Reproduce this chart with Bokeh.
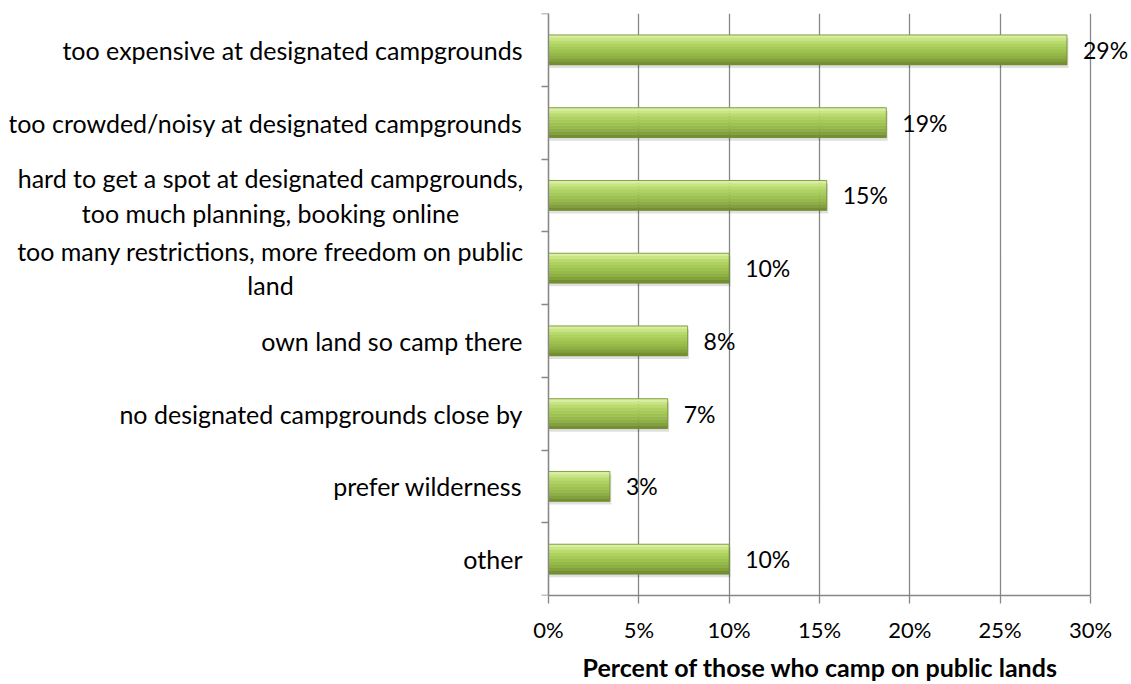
import numpy as np
from bokeh.plotting import figure
from bokeh.models import Range1d, FixedTicker, LinearAxis, Title
from bokeh.embed import file_html
from bokeh.resources import INLINE
from bokeh.core.properties import value

# ---- data ----
categories = [
    "too expensive at designated campgrounds",
    "too crowded/noisy at designated campgrounds",
    "hard to get a spot at designated campgrounds,\ntoo much planning, booking online",
    "too many restrictions, more freedom on public\nland",
    "own land so camp there",
    "no designated campgrounds close by",
    "prefer wilderness",
    "other",
]
values = [28.7, 18.7, 15.4, 10.0, 7.7, 6.6, 3.4, 10.0]
value_labels = ["29%", "19%", "15%", "10%", "8%", "7%", "3%", "10%"]
x_ticks = [0, 5, 10, 15, 20, 25, 30]
x_tick_labels = ["0%", "5%", "10%", "15%", "20%", "25%", "30%"]
x_title = "Percent of those who camp on public lands"

FONT = "Lato"
GRID = "#878787"

W, H = 1131, 684
FL, FR, FT, FB = 9, 1128, 13, 595         # frame edges (px)
X0, X30 = 548, 1090                        # pixel of 0% and 30%
ppu = (X30 - X0) / 30.0

n = len(categories)
centers = np.arange(n) + 0.5
vals = np.array(values)

p = figure(frame_width=FR - FL, frame_height=FB - FT,
           output_backend="svg", toolbar_location=None,
           x_range=Range1d((FL - X0) / ppu, (FR - X0) / ppu),
           y_range=Range1d(n, 0), y_axis_location=None,
           min_border_left=FL, min_border_right=W - FR, min_border_top=FT,
           min_border_bottom=H - FB)
p.outline_line_color = None
p.background_fill_color = "white"
p.border_fill_color = "white"

# grid
p.ygrid.visible = False
p.xgrid.ticker = FixedTicker(ticks=x_ticks)
p.xgrid.grid_line_color = GRID
p.xgrid.grid_line_width = 1.3

# x axis
p.xaxis.bounds = (x_ticks[0], x_ticks[-1])
p.xaxis.ticker = FixedTicker(ticks=x_ticks)
p.xaxis.major_label_overrides = {t: l for t, l in zip(x_ticks, x_tick_labels)}
p.xaxis.major_tick_out = 8
p.xaxis.major_tick_in = 0
p.xaxis.minor_tick_line_color = None
p.xaxis.axis_line_color = GRID
p.xaxis.major_tick_line_color = GRID
p.xaxis.axis_line_width = 1.3
p.xaxis.major_tick_line_width = 1.3
p.xaxis.major_label_text_font = FONT
p.xaxis.major_label_text_font_size = "22px"
p.xaxis.major_label_text_color = "black"
p.xaxis.major_label_standoff = 12

# axis title, placed under the 0%-30% span
p.add_layout(Title(text=x_title, align="left", offset=582 - FL,
                   text_font=FONT, text_font_size="25px",
                   text_font_style="bold", text_color="black",
                   standoff=9), "below")

# y axis at x = 0 (band boundaries as ticks, no labels)
yax = LinearAxis(fixed_location=0, ticker=FixedTicker(ticks=list(range(n + 1))))
yax.major_label_overrides = {i: "" for i in range(n + 1)}
yax.major_label_text_font_size = "0px"
yax.major_label_standoff = 0
yax.major_tick_out = 7
yax.major_tick_in = 0
yax.minor_tick_line_color = None
yax.axis_line_color = GRID
yax.major_tick_line_color = GRID
yax.axis_line_width = 1.3
yax.major_tick_line_width = 1.3
p.add_layout(yax, "left")

# bars: shadow + vertical gradient strips
h = 0.41
p.hbar(y=centers + 0.045, left=0.05, right=vals + 0.08, height=h,
       fill_color="black", fill_alpha=0.12, line_color=None)
grad = ["#d8ee a0".replace(" ", ""), "#c8e483", "#b9da6c", "#aed160", "#a6ca58",
        "#9ec250", "#96b94a", "#8daf43", "#83a13b", "#748f32"]
N = len(grad)
for k, c in enumerate(grad):
    yk = centers - h / 2 + (k + 0.5) * h / N
    p.hbar(y=yk, left=0, right=vals, height=h / N * 1.08,
           fill_color=c, line_color=None)
p.hbar(y=centers, left=0, right=vals, height=h, fill_color=None,
       line_color="#6e8c2c", line_width=0.8)

# value labels
p.text(x=vals, y=centers, text=value_labels, x_offset=16,
       text_align="left", text_baseline="middle",
       text_font=value(FONT), text_font_size="23px", text_color="black")

# category labels
single = [c for c in categories if "\n" not in c]
single_y = [y for c, y in zip(categories, centers) if "\n" not in c]
multi = [c for c in categories if "\n" in c]
multi_y = [y for c, y in zip(categories, centers) if "\n" in c]
p.text(x=-26 / ppu, y=single_y, text=single, text_align="right",
       text_baseline="middle", text_font=value(FONT), text_font_size="25px",
       text_color="black")
p.text(x=(270 - X0) / ppu, y=multi_y, text=multi, text_align="center",
       text_baseline="middle", text_font=value(FONT), text_font_size="25px",
       text_color="black", text_line_height=1.15)

open("out.html", "w").write(file_html(p, INLINE))
